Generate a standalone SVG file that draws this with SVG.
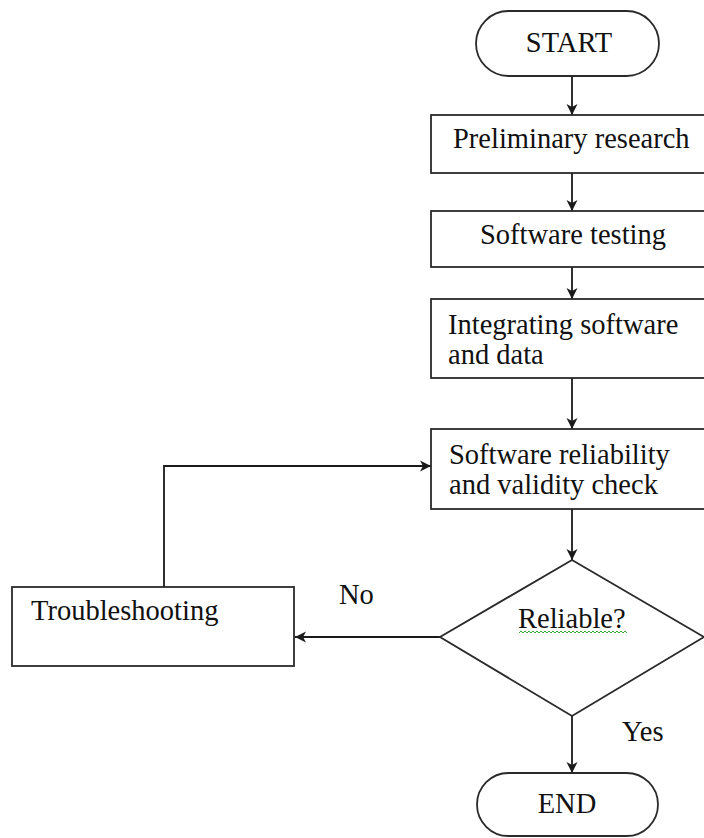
<svg xmlns="http://www.w3.org/2000/svg" width="704" height="838" viewBox="0 0 704 838">
<style>
.shape{fill:#fff;stroke:#2a2a2a;stroke-width:1.8}
.t{font-family:"Liberation Serif","Times New Roman",serif;font-size:28.5px;fill:#111}
.c{stroke:#1a1a1a;stroke-width:1.8;fill:none}
</style>
<defs>
<marker id="ah" viewBox="0 0 12 12" refX="11" refY="6" markerWidth="12" markerHeight="12" markerUnits="userSpaceOnUse" orient="auto">
<path d="M0,0.5 L11,6 L0,11.5 L3,6 z" fill="#1a1a1a"/>
</marker>
</defs>
<rect width="704" height="838" fill="#fff"/>
<g id="connectors">
<line class="c" x1="572" y1="76" x2="572" y2="115" marker-end="url(#ah)"/>
<line class="c" x1="572" y1="173" x2="572" y2="211" marker-end="url(#ah)"/>
<line class="c" x1="572" y1="267" x2="572" y2="299" marker-end="url(#ah)"/>
<line class="c" x1="572" y1="378" x2="572" y2="429" marker-end="url(#ah)"/>
<line class="c" x1="572" y1="509" x2="572" y2="560" marker-end="url(#ah)"/>
<line class="c" x1="572" y1="716" x2="572" y2="773" marker-end="url(#ah)"/>
<line class="c" x1="440" y1="637" x2="295" y2="637" marker-end="url(#ah)"/>
<polyline class="c" points="164,587 164,466 431,466" marker-end="url(#ah)"/>
<text class="t" x="339" y="604">No</text>
<text class="t" x="622" y="741">Yes</text>
</g>
<g id="start">
<rect class="shape" x="476" y="11" width="183" height="65" rx="32.5"/>
<text class="t" x="569" y="52" text-anchor="middle">START</text>
</g>
<g id="prelim">
<rect class="shape" x="431" y="115" width="290" height="58"/>
<text class="t" x="453" y="148">Preliminary research</text>
</g>
<g id="testing">
<rect class="shape" x="431" y="211" width="290" height="56"/>
<text class="t" x="480" y="244">Software testing</text>
</g>
<g id="integrating">
<rect class="shape" x="431" y="299" width="290" height="79"/>
<text class="t" x="448" y="334">Integrating software</text>
<text class="t" x="448" y="364">and data</text>
</g>
<g id="reliability">
<rect class="shape" x="431" y="429" width="290" height="80"/>
<text class="t" x="449" y="464">Software reliability</text>
<text class="t" x="449" y="494">and validity check</text>
</g>
<g id="decision">
<polygon class="shape" points="572,560 704,637 572,716 440,637"/>
<text class="t" x="518" y="628">Reliable?</text>
<path d="M519,633 l2,-2 l2,2 l2,-2 l2,2 l2,-2 l2,2 l2,-2 l2,2 l2,-2 l2,2 l2,-2 l2,2 l2,-2 l2,2 l2,-2 l2,2 l2,-2 l2,2 l2,-2 l2,2 l2,-2 l2,2 l2,-2 l2,2 l2,-2 l2,2 l2,-2 l2,2 l2,-2 l2,2 l2,-2 l2,2 l2,-2 l2,2 l2,-2 l2,2 l2,-2 l2,2 l2,-2 l2,2 l2,-2 l2,2 l2,-2 l2,2 l2,-2 l2,2 l2,-2 l2,2 l2,-2 l2,2 l2,-2 l2,2 l2,-2 l2,2" fill="none" stroke="#3aa83a" stroke-width="1"/>
</g>
<g id="troubleshooting">
<rect class="shape" x="12" y="587" width="282" height="79"/>
<text class="t" x="31" y="620">Troubleshooting</text>
</g>
<g id="end">
<rect class="shape" x="477" y="773" width="181" height="63" rx="31.5"/>
<text class="t" x="567" y="813" text-anchor="middle">END</text>
</g>
</svg>
